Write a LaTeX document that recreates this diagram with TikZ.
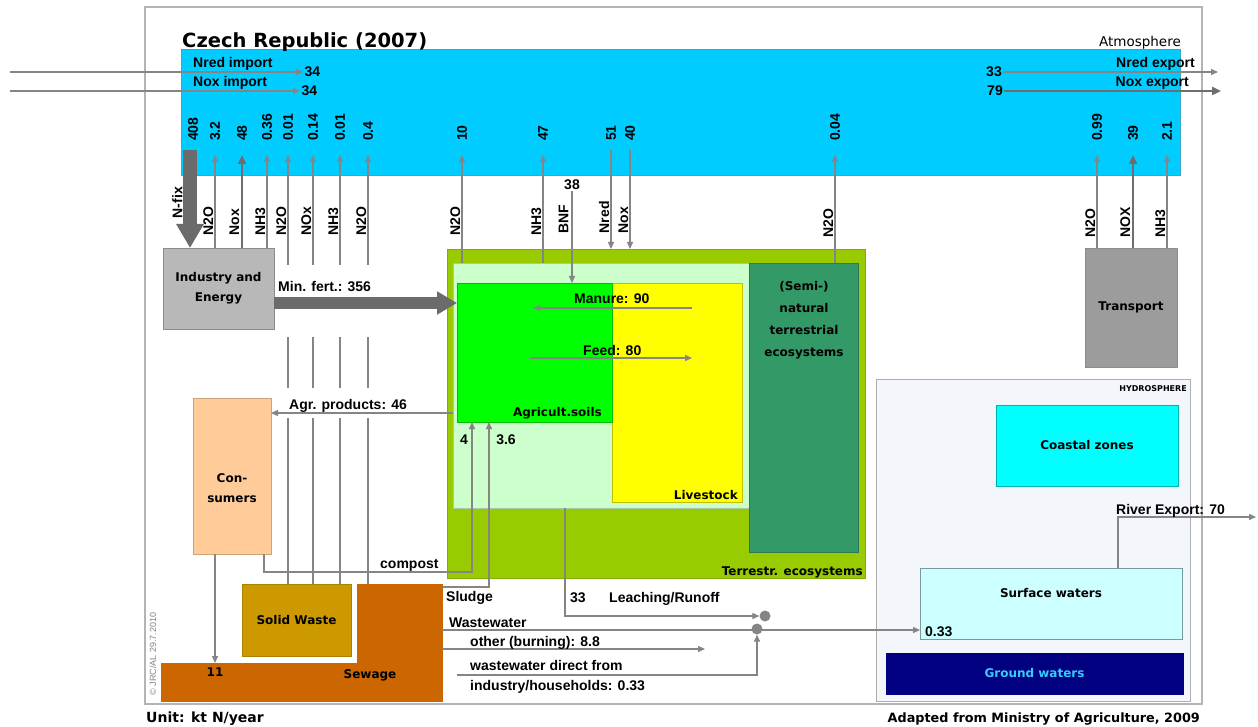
\documentclass[tikz,border=0pt]{standalone}
\usepackage{fontspec}
\setmainfont{Liberation Sans}
\newfontfamily\comicfont{DejaVu Sans}
\usetikzlibrary{arrows.meta, positioning, calc}
\definecolor{atmblue}{HTML}{00CCFF}
\definecolor{atmedge}{HTML}{3AA6C8}
\definecolor{framegray}{HTML}{B4B4B4}
\definecolor{flowgray}{HTML}{858585}
\definecolor{heavygray}{HTML}{6E6E6E}
\definecolor{fatgray}{HTML}{6B6B6B}
\definecolor{indgray}{HTML}{B8B8B8}
\definecolor{transgray}{HTML}{9C9C9C}
\definecolor{boxedge}{HTML}{8C8C8C}
\definecolor{terrgreen}{HTML}{99CC00}
\definecolor{agzgreen}{HTML}{CCFFCC}
\definecolor{semigreen}{HTML}{339966}
\definecolor{soilgreen}{HTML}{00FF00}
\definecolor{stockyellow}{HTML}{FFFF00}
\definecolor{conspeach}{HTML}{FFCC99}
\definecolor{wasteochre}{HTML}{CC9900}
\definecolor{sewageorange}{HTML}{CC6600}
\definecolor{hydrofill}{HTML}{F3F6FB}
\definecolor{coastcyan}{HTML}{00FFFF}
\definecolor{surfcyan}{HTML}{CCFFFF}
\definecolor{groundnavy}{HTML}{000080}
\definecolor{groundtext}{HTML}{33CCFF}

\begin{document}
\begin{tikzpicture}[
    x=1pt, y=-1pt,
    zone/.style={draw=#1, line width=0.8pt, anchor=north west, inner sep=0pt, outer sep=0pt},
    lbl/.style={font=\bfseries\fontsize{14}{16}\selectfont, inner sep=1pt},
    cmc/.style={font=\comicfont\bfseries\fontsize{12}{20}\selectfont, align=center, inner sep=1pt},
    num/.style={lbl, rotate=90, anchor=west, inner sep=0pt},
    mol/.style={lbl, rotate=90, anchor=south west, inner sep=0.5pt},
    wire/.style={draw=flowgray, line width=1.3pt},
    flow/.style={wire, -{Triangle[length=7pt, width=6pt]}},
    heavy/.style={draw=heavygray, line width=2.6pt, -{Triangle[length=9pt, width=8pt]}},
    fat/.style={draw=fatgray, line width=#1},
    joint/.style={circle, fill=flowgray, minimum size=11pt, inner sep=0pt},
]
    \fill[white] (0,0) rectangle (1258,727);
    \useasboundingbox (0,0) rectangle (1258,727);

    % Frame and atmosphere
    \node[zone=framegray, line width=1.4pt, minimum width=1057pt, minimum height=697pt] (frame) at (145,7) {};
    \node[zone=atmedge, fill=atmblue, minimum width=999pt, minimum height=126pt] (atm) at (181,49) {};
    \node[cmc, font=\comicfont\bfseries\fontsize{19.5}{22}\selectfont, anchor=base west] (title) at (181,48) {Czech Republic (2007)};
    \node[font=\comicfont\fontsize{13.5}{15}\selectfont, anchor=east, inner sep=0pt] (atmlbl) at (1181,43) {Atmosphere};

    % Import / export
    \coordinate (nredsrc) at (10,72);
    \coordinate (noxsrc) at (10,91);
    \draw[flow] (nredsrc) -- (303,72) node[lbl, right] (nredin) {34};
    \draw[flow] (noxsrc) -- (300,91) node[lbl, right] (noxin) {34};
    \node[lbl, anchor=base west] (nredinlbl) at (192,68) {Nred import};
    \node[lbl, anchor=base west] (noxinlbl) at (192,87) {Nox import};
    \node[lbl] (exp33) at (994,72) {33};
    \node[lbl] (exp79) at (995,91) {79};
    \coordinate (nredout) at (1218,72);
    \coordinate (noxout) at (1221,91);
    \draw[flow] (exp33.east) -- (nredout);
    \draw[heavy] (exp79.east) -- (noxout);
    \node[lbl, anchor=base east] (nredoutlbl) at (1196,68) {Nred export};
    \node[lbl, anchor=base east] (noxoutlbl) at (1190,87) {Nox export};

    % Boxes
    \node[zone=boxedge, fill=indgray, minimum width=111pt, minimum height=81pt, cmc, inner sep=0pt] (ind) at (163,248) {Industry and\\Energy};
    \node[zone=boxedge, fill=transgray, minimum width=92pt, minimum height=119pt, cmc, inner sep=0pt] (trans) at (1085,248) {Transport};
    \node[zone=terrgreen!85!black, fill=terrgreen, minimum width=418pt, minimum height=329pt] (terr) at (447,249) {};
    \node[zone=agzgreen!80!black, fill=agzgreen, minimum width=296pt, minimum height=245pt] (agz) at (453,263) {};
    \node[zone=semigreen!80!black, fill=semigreen, minimum width=109pt, minimum height=289pt] (semi) at (749,263) {};
    \node[zone=stockyellow!75!black, fill=stockyellow, minimum width=130pt, minimum height=219pt] (stock) at (612,283) {};
    \node[zone=soilgreen!75!black, fill=soilgreen, minimum width=155pt, minimum height=139pt] (soils) at (457,283) {};
    \node[zone=conspeach!80!black, fill=conspeach, minimum width=78pt, minimum height=156pt] (cons) at (193,398) {};
    \node[zone=wasteochre!85!black, fill=wasteochre, minimum width=109pt, minimum height=72pt, cmc, inner sep=0pt] (sw) at (242,584) {Solid Waste};
    \node[zone=sewageorange, fill=sewageorange, minimum width=281pt, minimum height=38pt] (sewh) at (161,663) {};
    \node[zone=sewageorange, fill=sewageorange, minimum width=85pt, minimum height=117pt] (sewv) at (357,584) {};
    \node[zone=boxedge!70, fill=hydrofill, minimum width=314pt, minimum height=322pt] (hydro) at (876,379) {};
    \node[zone=coastcyan!70!black, fill=coastcyan, minimum width=182pt, minimum height=81pt, cmc, inner sep=0pt] (coast) at (996,405) {Coastal zones};
    \node[zone=surfcyan!60!black, fill=surfcyan, minimum width=262pt, minimum height=71pt] (surf) at (920,568) {};
    \node[zone=groundnavy, fill=groundnavy, minimum width=297pt, minimum height=41pt, cmc, text=groundtext, inner sep=0pt] (ground) at (886,653) {Ground waters};

    % Box texts
    \node[cmc] (constext) at (232,488) {Con-\\sumers};
    \node[cmc, font=\comicfont\bfseries\fontsize{12}{22}\selectfont, anchor=north] (semitext) at (804,280) {(Semi-)\\natural\\terrestrial\\ecosystems};
    \node[cmc, anchor=base east] (soilstext) at (603,416) {Agricult.soils};
    \node[cmc, anchor=base east] (stocktext) at (739,499) {Livestock};
    \node[cmc, anchor=base east] (terrtext) at (864,575) {Terrestr. ecosystems};
    \node[cmc] (surftext) at (1051,593) {Surface waters};
    \node[cmc, font=\comicfont\bfseries\fontsize{8}{9}\selectfont, anchor=east] (hydrotext) at (1188,389) {HYDROSPHERE};
    \node[cmc] (sewtext) at (370,675) {Sewage};
    \node[cmc] (n11) at (215,672) {11};

    % Emissions to the atmosphere
    \draw[fat=14pt, -{Triangle[length=24pt, width=26pt]}] (190,150) -- (ind.north -| 190,0);
    \node[num] (n408) at (193,141) {408};
    \node[mol] (nfix) at (183,219) {N-fix};
    \foreach \x/\v/\m in {215/3.2/N2O, 267/0.36/NH3} {
        \draw[flow] (\x,0 |- ind.north) -- (\x,155);
        \node[num] (n\x) at (\x,141) {\v};
        \node[mol] (m\x) at (\x-1,236) {\m};
    }
    \draw[heavy] (242,0 |- ind.north) -- (242,155);
    \node[num] (n242) at (242,141) {48};
    \node[mol] (m242) at (240,236) {Nox};
    \foreach \x/\v/\m/\src in {288/0.01/N2O/sw, 313/0.14/NOx/sw, 340/0.01/NH3/sw, 368/0.4/N2O/sewv} {
        \draw[wire] (\x,0 |- \src.north) -- (\x,418) (\x,388) -- (\x,337);
        \draw[flow] (\x,265) -- (\x,155);
        \node[num] (n\x) at (\x,141) {\v};
        \node[mol] (m\x) at (\x-1,236) {\m};
    }
    \foreach \x/\v/\m in {462/10/N2O, 543/47/NH3} {
        \draw[flow] (\x,0 |- agz.north) -- (\x,155);
        \node[num] (n\x) at (\x,141) {\v};
        \node[mol] (m\x) at (\x-1,236) {\m};
    }
    \draw[flow] (835,0 |- semi.north) -- (835,155);
    \node[num] (n835) at (835,141) {0.04};
    \node[mol] (m835) at (834,238) {N2O};
    \foreach \x/\v/\m in {611/51/Nred, 630/40/Nox} {
        \draw[flow] (\x,150) -- (\x,0 |- terr.north);
        \node[num] (n\x) at (\x,141) {\v};
        \node[mol] (m\x) at (\x-1,234) {\m};
    }
    \node[lbl] (n38) at (572,185) {38};
    \draw[flow] (n38.south) -- (soils.north -| n38.south);
    \node[mol] (mbnf) at (569,234) {BNF};
    \foreach \x/\v/\m in {1097/0.99/N2O, 1167/2.1/NH3} {
        \draw[flow] (\x,0 |- trans.north) -- (\x,155);
        \node[num] (n\x) at (\x,141) {\v};
        \node[mol] (m\x) at (\x-1,238) {\m};
    }
    \draw[heavy] (1133,0 |- trans.north) -- (1133,155);
    \node[num] (n1133) at (1133,141) {39};
    \node[mol] (m1133) at (1131,238) {NOX};

    % Agricultural flows
    \draw[fat=12pt, -{Triangle[length=20pt, width=22pt]}] (ind.east |- 0,303) -- (soils.west |- 0,303);
    \node[lbl, anchor=base west] (mfert) at (277,292) {Min. fert.: 356};
    \coordinate (manfrom) at (692,308);
    \coordinate (manto) at (533,308);
    \coordinate (feedfrom) at (530,358);
    \coordinate (feedto) at (692,358);
    \draw[flow] (manfrom) -- (manto);
    \draw[flow] (feedfrom) -- (feedto);
    \node[lbl, anchor=base west] (manure) at (573,303) {Manure: 90};
    \node[lbl, anchor=base west] (feed) at (582,355) {Feed: 80};
    \draw[flow] (agz.west |- 0,413) -- (cons.east |- 0,413);
    \node[lbl, anchor=base west] (agrp) at (288,409) {Agr. products: 46};

    % Waste flows
    \draw[flow] (215,0 |- cons.south) -- (215,0 |- sewh.north);
    \draw[flow] (264,0 |- cons.south) |- (472,572) -- (472,0 |- soils.south);
    \node[lbl, anchor=base west] (compost) at (379,568) {compost};
    \draw[flow] (sewv.east |- 0,587) -| (489,0 |- soils.south);
    \node[lbl] (c4) at (464,440) {4};
    \node[lbl] (c36) at (506,440) {3.6};
    \node[lbl, anchor=base west] (sludge) at (445,601) {Sludge};

    % Water flows
    \node[joint] (leach) at (765,616) {};
    \draw[flow] (565,0 |- agz.south) |- (leach.west);
    \node[lbl, anchor=base west] (l33) at (569,602) {33};
    \node[lbl, anchor=base west] (leachlbl) at (608,602) {Leaching/Runoff};
    \draw[flow] (sewv.east |- 0,630) -- (surf.west |- 0,630);
    \node[joint] (wwjoin) at (757,629) {};
    \node[lbl, anchor=base west] (wwlbl) at (448,627) {Wastewater};
    \node[lbl, anchor=base west] (s033) at (924,636) {0.33};
    \coordinate (burnto) at (705,649);
    \draw[flow] (sewv.east |- 0,649) -- (burnto);
    \node[lbl, anchor=base west] (burnlbl) at (469,646) {other (burning): 8.8};
    \coordinate (directsrc) at (457,675);
    \draw[flow] (directsrc) -| (wwjoin.south);
    \node[lbl, anchor=base west] (direct1) at (469,670) {wastewater direct from};
    \node[lbl, anchor=base west] (direct2) at (469,690) {industry/households: 0.33};
    \coordinate (riverout) at (1256,517);
    \draw[flow] (1118,0 |- surf.north) |- (riverout);
    \node[lbl, anchor=base west] (river) at (1115,514) {River Export: 70};

    % Footer
    \node[cmc, font=\comicfont\bfseries\fontsize{14}{16}\selectfont, anchor=base west] (unit) at (145,722) {Unit: kt N/year};
    \node[cmc, font=\comicfont\bfseries\fontsize{12.8}{15}\selectfont, anchor=base east] (source) at (1201,722) {Adapted from Ministry of Agriculture, 2009};
    \node[font=\fontsize{9}{10}\selectfont, text=flowgray, rotate=90] (copy) at (153,654) {\textcopyright\ JRC/AL 29.7.2010};
\end{tikzpicture}
\end{document}
